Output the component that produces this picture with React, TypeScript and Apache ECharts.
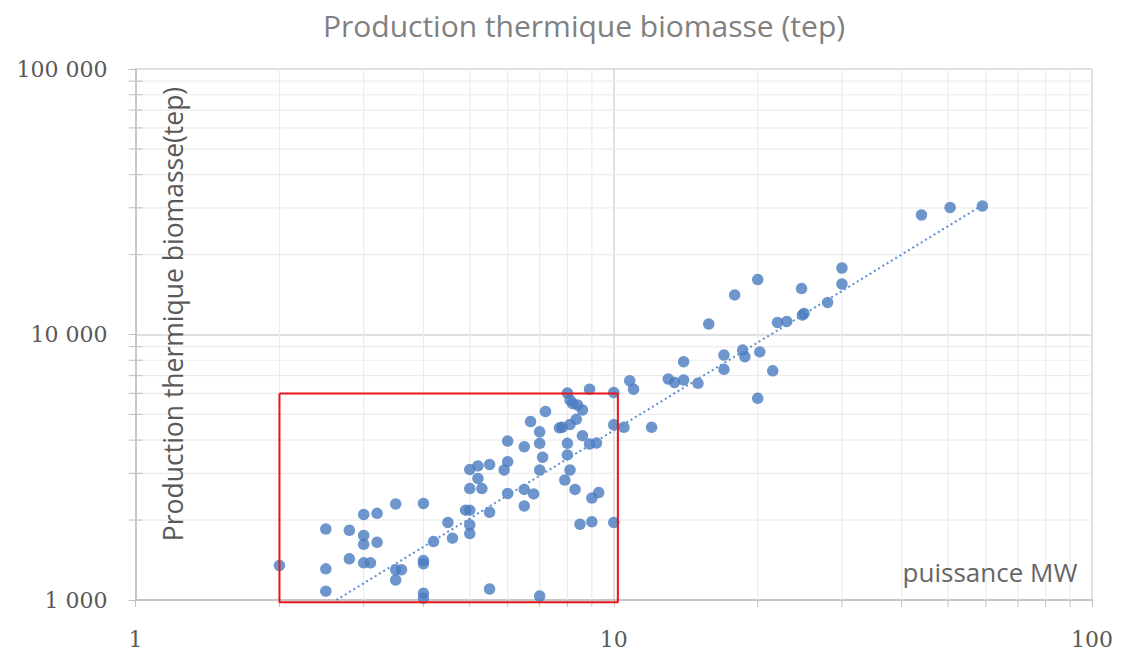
import React, { useEffect, useRef } from "react";
import * as echarts from "echarts";

// ---- data ----
const pointsX: number[] = [
  2, 2.5, 2.5, 2.5, 2.8, 2.8, 3, 3, 3, 3, 3.1, 3.2, 3.2,
  3.5, 3.5, 3.6, 3.5, 4, 4, 4, 4, 4, 4.2, 4.5, 4.6,
  5, 5.2, 5, 5.2, 5.3, 5.5, 4.9, 5, 5, 5, 5.5, 5.5,
  6, 6, 5.9, 6, 6.5, 6.5, 6.5, 6.8, 6.7, 7.2, 7, 7, 7.1, 7, 7,
  7.7, 7.8, 8, 8.1, 8.2, 8.4, 8.6, 8.1, 8.35, 8.9, 8, 8, 8.1, 7.9, 8.3, 8.6,
  8.9, 9.2, 9, 9.3, 8.5, 9, 10, 10, 10, 10.5,
  10.8, 11, 12, 13, 13.4, 14, 14, 15, 15.8, 17, 17, 17.9, 18.6, 18.8,
  20, 20, 20.2, 21.5, 22, 23, 24.7, 24.8, 25, 28, 30, 30,
  44, 50.5, 59,
];
const pointsY: number[] = [
  1350, 1850, 1310, 1080, 1830, 1430, 2100, 1750, 1620, 1380, 1380, 2120, 1650,
  2300, 1300, 1300, 1190, 2310, 1410, 1370, 1060, 1015, 1660, 1960, 1710,
  3100, 3200, 2630, 2870, 2630, 3240, 2180, 2180, 1920, 1780, 2140, 1100,
  3970, 3320, 3090, 2520, 3780, 2610, 2260, 2510, 4700, 5130, 4300, 3890, 3450, 3090, 1035,
  4450, 4470, 6020, 5670, 5500, 5430, 5200, 4580, 4790, 6220, 3890, 3520, 3090, 2830, 2610, 4160,
  3870, 3900, 2420, 2540, 1930, 1970, 1960, 6050, 4570, 4470,
  6700, 6220, 4470, 6800, 6600, 6740, 7900, 6550, 10950, 8370, 7390, 14100, 8740, 8250,
  5750, 16100, 8600, 7300, 11100, 11200, 14900, 11850, 12000, 13200, 17800, 15500,
  28200, 30100, 30500,
];
// power-law trend line end points (straight on log-log axes)
const trendX: number[] = [2.63, 59];
const trendY: number[] = [1000, 30700];
// highlighted zone
const boxX: number[] = [2, 10.2, 10.2, 2, 2];
const boxY: number[] = [6000, 6000, 980, 980, 6000];
// minor grid values
const minorXValues: number[] = [2, 3, 4, 5, 6, 7, 8, 9, 20, 30, 40, 50, 60, 70, 80, 90];
const minorYValues: number[] = [
  2000, 3000, 4000, 5000, 6000, 7000, 8000, 9000,
  20000, 30000, 40000, 50000, 60000, 70000, 80000, 90000,
];
const xMin = 1, xMax = 100, yMin = 1000, yMax = 100000;

const titleText = "Production thermique biomasse (tep)";
const yName = "Production thermique biomasse(tep)";
const xName = "puissance MW";

const fmt = (v: number) =>
  String(Math.round(v)).replace(/\B(?=(\d{3})+(?!\d))/g, " ");

export default function App() {
  const ref = useRef<HTMLDivElement>(null);
  useEffect(() => {
    if (!ref.current) return;
    const chart = echarts.init(ref.current, null, { renderer: "svg" });
    const scatterData = pointsX.map((x, i) => [x, pointsY[i]]);
    const trendData = trendX.map((x, i) => [x, trendY[i]]);
    const boxData = boxX.map((x, i) => [x, boxY[i]]);
    const serif = "'DejaVu Serif', serif";
    const sans = "'Open Sans', sans-serif";
    chart.setOption({
      animation: false,
      backgroundColor: "#ffffff",
      grid: { left: 135.5, right: 52, top: 69, bottom: 65, outerBoundsMode: "none" },
      xAxis: {
        type: "log",
        logBase: 10,
        min: xMin,
        max: xMax,
        axisLine: { show: true, lineStyle: { color: "#bfbfbf", width: 1.5 } },
        axisTick: { show: true, length: 7, lineStyle: { color: "#bfbfbf" } },
        axisLabel: { formatter: fmt, fontFamily: serif, fontSize: 22, color: "#595959", margin: 28 },
        splitLine: { show: true, lineStyle: { color: "#d6d6d6", width: 1.5 } },
      },
      yAxis: {
        type: "log",
        logBase: 10,
        min: yMin,
        max: yMax,
        axisLine: { show: true, lineStyle: { color: "#bfbfbf", width: 1.5 } },
        axisTick: { show: true, length: 7, lineStyle: { color: "#bfbfbf" } },
        axisLabel: { formatter: fmt, fontFamily: serif, fontSize: 22, color: "#595959", margin: 28 },
        splitLine: { show: true, lineStyle: { color: "#d6d6d6", width: 1.5 } },
      },
      graphic: [
        {
          type: "text",
          x: 584,
          y: 25,
          style: {
            text: titleText,
            fontFamily: sans,
            fontSize: 30,
            fill: "#808080",
            align: "center",
            verticalAlign: "middle",
          },
          z: 100,
        },
        {
          type: "text",
          x: 173,
          y: 314,
          rotation: Math.PI / 2,
          style: {
            text: yName,
            fontFamily: sans,
            fontSize: 26.5,
            fill: "#595959",
            align: "center",
            verticalAlign: "middle",
          },
          z: 100,
        },
        {
          type: "text",
          x: 990,
          y: 572,
          style: {
            text: xName,
            fontFamily: sans,
            fontSize: 26,
            fill: "#666666",
            align: "center",
            verticalAlign: "middle",
          },
          z: 100,
        },
      ],
      series: [
        {
          type: "custom",
          silent: true,
          z: 1,
          clip: false,
          data: minorXValues.map((v) => [v, yMin]),
          encode: { x: 0, y: 1 },
          renderItem: (_p: any, api: any) => {
            const v = api.value(0);
            const b = api.coord([v, yMin]);
            const t = api.coord([v, yMax]);
            return {
              type: "group",
              children: [
                { type: "line", shape: { x1: b[0], y1: t[1], x2: b[0], y2: b[1] }, style: { stroke: "#ececec", lineWidth: 1.2 } },
                { type: "line", shape: { x1: b[0], y1: b[1], x2: b[0], y2: b[1] + 7 }, style: { stroke: "#bfbfbf", lineWidth: 1 } },
              ],
            };
          },
        },
        {
          type: "custom",
          silent: true,
          z: 1,
          clip: false,
          data: minorYValues.map((v) => [xMin, v]),
          encode: { x: 0, y: 1 },
          renderItem: (_p: any, api: any) => {
            const v = api.value(1);
            const l = api.coord([xMin, v]);
            const r = api.coord([xMax, v]);
            return {
              type: "group",
              children: [
                { type: "line", shape: { x1: l[0], y1: l[1], x2: r[0], y2: l[1] }, style: { stroke: "#ececec", lineWidth: 1.2 } },
                { type: "line", shape: { x1: l[0] - 7, y1: l[1], x2: l[0] + 7, y2: l[1] }, style: { stroke: "#bfbfbf", lineWidth: 1 } },
              ],
            };
          },
        },
        {
          type: "scatter",
          z: 3,
          symbol: "circle",
          symbolSize: 11.5,
          itemStyle: { color: "#4a7cc0" },
          data: scatterData,
        },
        {
          type: "line",
          z: 4,
          symbol: "none",
          lineStyle: { color: "#5b8fd0", width: 2, type: [2, 3] },
          data: trendData,
        },
        {
          type: "line",
          z: 5,
          clip: false,
          symbol: "none",
          lineStyle: { color: "#e8161b", width: 2 },
          data: boxData,
        },
      ],
    });
    return () => chart.dispose();
  }, []);
  return (
    <div
      ref={ref}
      style={{ position: "fixed", left: 0, top: 0, width: 1144, height: 665, background: "#fff" }}
    />
  );
}
